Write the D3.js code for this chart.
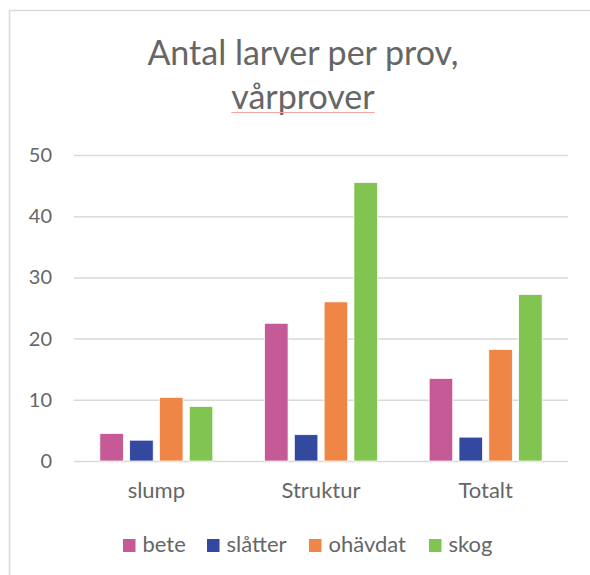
<!DOCTYPE html>
<html>
<head>
<meta charset="utf-8">
<script src="https://cdn.jsdelivr.net/npm/d3@7"></script>
<style>
  html, body { margin: 0; padding: 0; background: #fff; }
  svg { display: block; font-family: Lato, "Open Sans", sans-serif; }
</style>
</head>
<body>
<svg id="chart" width="590" height="575"></svg>
<script>
const categories = ["slump", "Struktur", "Totalt"];
const seriesNames = ["bete", "slåtter", "ohävdat", "skog"];
const bete    = [4.5, 22.5, 13.5];
const slatter = [3.4, 4.3, 3.9];
const ohavdat = [10.4, 26.0, 18.2];
const skog    = [8.9, 45.5, 27.2];
const seriesColors = ["#c55a96", "#3349a0", "#f08645", "#81c452"];
const yTicks = [0, 10, 20, 30, 40, 50];
const titleLines = ["Antal larver per prov,", "vårprover"];

const seriesValues = [bete, slatter, ohavdat, skog];
const data = categories.map((c, i) => ({
  cat: c,
  values: seriesNames.map((s, j) => ({ s, v: seriesValues[j][i], color: seriesColors[j] }))
}));

const svg = d3.select("#chart");
const textColor = "#666";

// chart frame
svg.append("rect").attr("x", 9.5).attr("y", 10.5).attr("width", 600).attr("height", 600)
  .attr("fill", "#fff").attr("stroke", "#d9d9d9").attr("stroke-width", 1.5);

// title
const title = svg.append("text").attr("text-anchor", "middle").attr("fill", textColor)
  .attr("font-size", 34);
titleLines.forEach((t, i) => {
  title.append("tspan").attr("x", 303).attr("y", 65 + i * 44).text(t);
});
// spell-check underline under second line
const t2 = title.selectAll("tspan").nodes()[1].getComputedTextLength();
svg.append("line").attr("x1", 303 - t2 / 2).attr("x2", 303 + t2 / 2)
  .attr("y1", 112.5).attr("y2", 112.5).attr("stroke", "#f4a6a6").attr("stroke-width", 1);

const x0 = d3.scaleBand().domain(categories).range([74, 568]).paddingInner(0).paddingOuter(0);
const bw = x0.bandwidth();
const x1 = d3.scaleBand().domain(seriesNames).range([bw * 0.157, bw * 0.843]).paddingInner(0.21).paddingOuter(0);
const y = d3.scaleLinear().domain([0, 50]).range([461, 155]);

// gridlines
const grid = d3.axisLeft(y).tickValues(yTicks).tickSize(-(568 - 74)).tickFormat("");
const gg = svg.append("g").attr("transform", "translate(74,0)").call(grid);
gg.select(".domain").remove();
gg.selectAll("line").attr("stroke", "#d9d9d9").attr("stroke-width", 1.5);

// y labels
const yAxis = d3.axisLeft(y).tickValues(yTicks).tickSize(0).tickPadding(0);
const ya = svg.append("g").attr("transform", "translate(52,0)").call(yAxis);
ya.select(".domain").remove();
ya.selectAll("text").attr("fill", textColor).attr("font-size", 20).attr("font-family", "Lato, sans-serif");

// bars
const groups = svg.append("g").selectAll("g").data(data).join("g")
  .attr("transform", d => `translate(${x0(d.cat)},0)`);
groups.selectAll("rect").data(d => d.values).join("rect")
  .attr("x", d => x1(d.s))
  .attr("width", x1.bandwidth())
  .attr("y", d => y(d.v))
  .attr("height", d => y(0) - y(d.v))
  .attr("fill", d => d.color)
  .attr("stroke", "#fff").attr("stroke-width", 0.75);

// x labels
const xAxis = d3.axisBottom(x0).tickSize(0).tickPadding(0);
const xa = svg.append("g").attr("transform", "translate(0,0)").call(xAxis);
xa.select(".domain").remove();
xa.selectAll("text").attr("fill", textColor).attr("font-size", 22).attr("font-family", "Lato, sans-serif")
  .attr("y", 498).attr("dy", null);

// legend
const legendX = [123, 207, 309, 429];
const lg = svg.append("g").selectAll("g").data(seriesNames).join("g")
  .attr("transform", (d, i) => `translate(${legendX[i]},539)`);
lg.append("rect").attr("width", 12.5).attr("height", 13).attr("fill", (d, i) => seriesColors[i]);
lg.append("text").attr("x", 19.5).attr("y", 13).attr("fill", textColor).attr("font-size", 22)
  .text(d => d);
</script>
</body>
</html>
